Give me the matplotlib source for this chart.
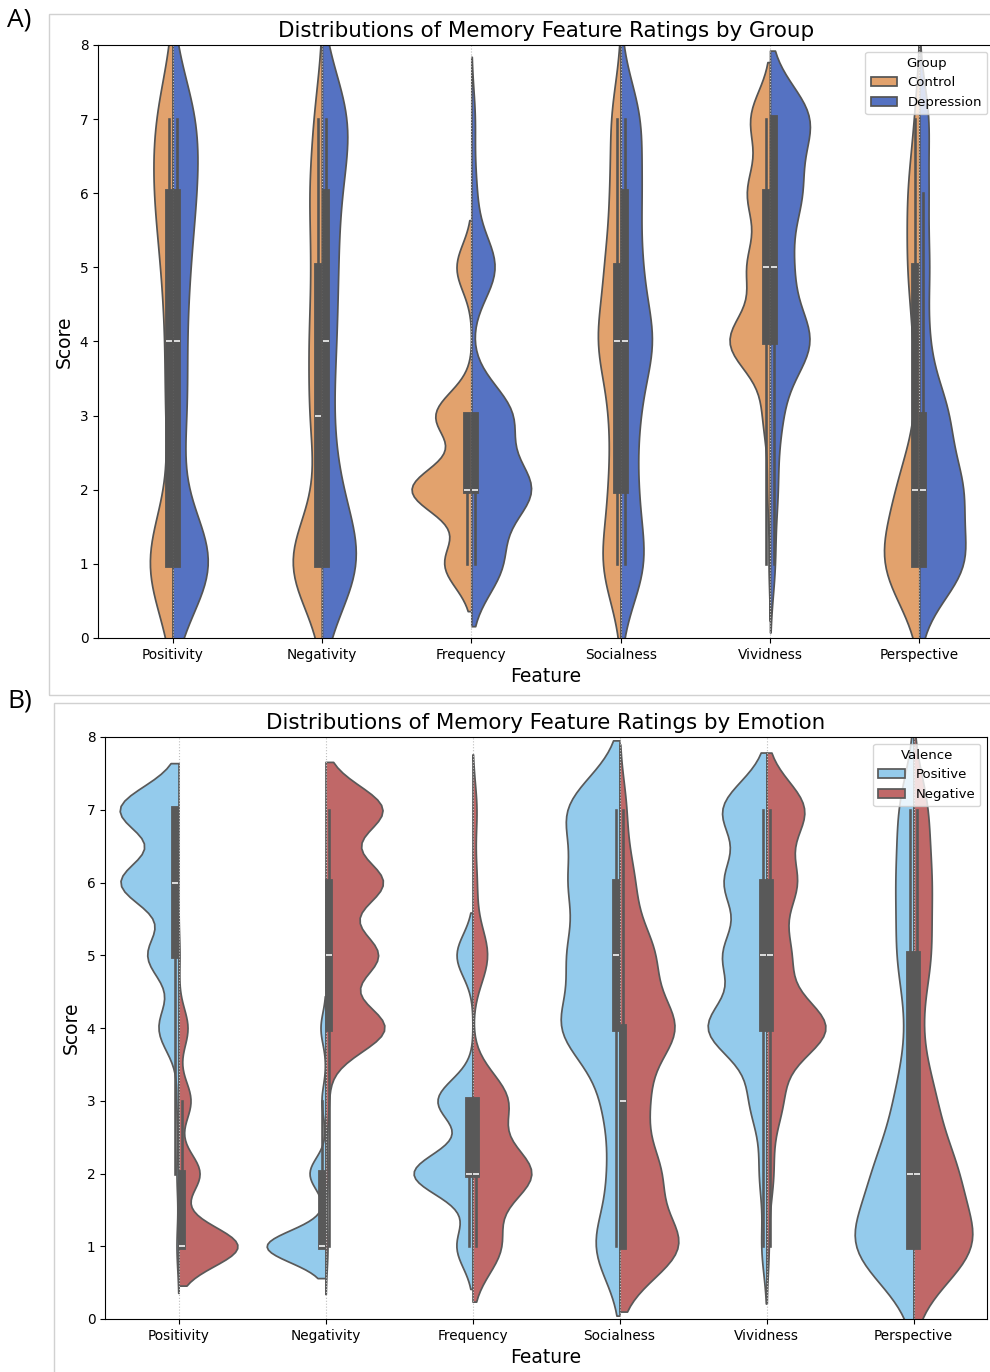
import numpy as np
import pandas as pd
import matplotlib
matplotlib.use("Agg")
import matplotlib.pyplot as plt
from matplotlib.patches import Rectangle
import seaborn as sns

features = ["Positivity", "Negativity", "Frequency", "Socialness", "Vividness", "Perspective"]
scores = [1, 2, 3, 4, 5, 6, 7]

# number of ratings at each score 1..7, one row per feature (same order as features)
control_counts = [
    [26, 1, 6, 5, 8, 14, 14],
    [28, 3, 9, 9, 7, 9, 6],
    [18, 40, 24, 0, 10, 0, 0],
    [16, 9, 8, 19, 12, 8, 8],
    [1, 2, 5, 29, 16, 16, 14],
    [34, 19, 2, 5, 10, 10, 4],
]
depression_counts = [
    [46, 4, 13, 11, 14, 20, 23],
    [40, 14, 8, 12, 13, 14, 28],
    [26, 51, 35, 0, 21, 4, 3],
    [20, 12, 13, 26, 15, 15, 16],
    [4, 6, 9, 34, 17, 25, 34],
    [44, 40, 27, 8, 9, 8, 9],
]
positive_counts = [
    [2, 2, 2, 20, 31, 58, 59],
    [59, 16, 4, 5, 0, 0, 0],
    [16, 59, 35, 0, 16, 0, 0],
    [21, 9, 13, 48, 40, 39, 44],
    [5, 7, 16, 57, 41, 40, 43],
    [50, 30, 14, 5, 13, 13, 12],
]
negative_counts = [
    [59, 21, 12, 9, 1, 0, 0],
    [2, 2, 3, 59, 52, 57, 57],
    [28, 59, 35, 0, 15, 4, 4],
    [56, 36, 24, 51, 31, 13, 6],
    [2, 6, 14, 55, 21, 27, 35],
    [48, 32, 16, 5, 13, 13, 11],
]

group_levels = ["Control", "Depression"]
valence_levels = ["Positive", "Negative"]
group_palette = {"Control": "#e2a26d", "Depression": "#5572c2"}
valence_palette = {"Positive": "#94cbec", "Negative": "#c06868"}


def to_long(counts_by_level, levels, level_name):
    parts = []
    for level, counts in zip(levels, counts_by_level):
        for feat, cnt in zip(features, counts):
            parts.append(pd.DataFrame({
                "Feature": feat,
                level_name: level,
                "Score": np.repeat(scores, cnt).astype(float),
            }))
    return pd.concat(parts, ignore_index=True)


group_df = to_long([control_counts, depression_counts], group_levels, "Group")
valence_df = to_long([positive_counts, negative_counts], valence_levels, "Valence")

W, H = 990, 1372
fig = plt.figure(figsize=(W / 100, H / 100), dpi=100)
ax1 = fig.add_axes([98 / W, 1 - 638 / H, 896 / W, 593 / H])
ax2 = fig.add_axes([105 / W, 1 - 1319 / H, 882 / W, 582 / H])

sns.violinplot(data=group_df, x="Feature", y="Score", hue="Group",
               order=features, hue_order=group_levels, split=True,
               inner="box", palette=group_palette, saturation=1,
               bw_method=0.28, ax=ax1)
sns.violinplot(data=valence_df, x="Feature", y="Score", hue="Valence",
               order=features, hue_order=valence_levels, split=True,
               inner="box", palette=valence_palette, saturation=1,
               bw_method=0.26, density_norm="width", ax=ax2)

titles = ["Distributions of Memory Feature Ratings by Group",
          "Distributions of Memory Feature Ratings by Emotion"]
for ax, title, leg_title in zip([ax1, ax2], titles, ["Group", "Valence"]):
    ax.set_ylim(0, 8)
    ax.grid(axis="x", linestyle=":", color="0.75", linewidth=0.8)
    ax.set_title(title, fontsize=15.4)
    ax.set_xlabel("Feature", fontsize=13.5)
    ax.set_ylabel("Score", fontsize=13.5)
    ax.tick_params(labelsize=9.8)
    sns.move_legend(ax, "upper right", title=leg_title,
                    fontsize=9.5, title_fontsize=9.5)

# light frames around the two panels, as in the assembled figure
fig.add_artist(Rectangle((49 / W, 1 - 695 / H), 1.0, 681 / H,
                         transform=fig.transFigure, fill=False,
                         edgecolor="0.82", linewidth=1))
fig.add_artist(Rectangle((54 / W, -0.02), 1.0, 1 - 703 / H + 0.02,
                         transform=fig.transFigure, fill=False,
                         edgecolor="0.82", linewidth=1))
fig.text(7 / W, 1 - 20 / H, "A)", fontsize=19, family="Open Sans", va="center")
fig.text(7 / W, 1 - 701 / H, "B)", fontsize=19, family="Open Sans", va="center")

fig.savefig("out.png", dpi=100)
